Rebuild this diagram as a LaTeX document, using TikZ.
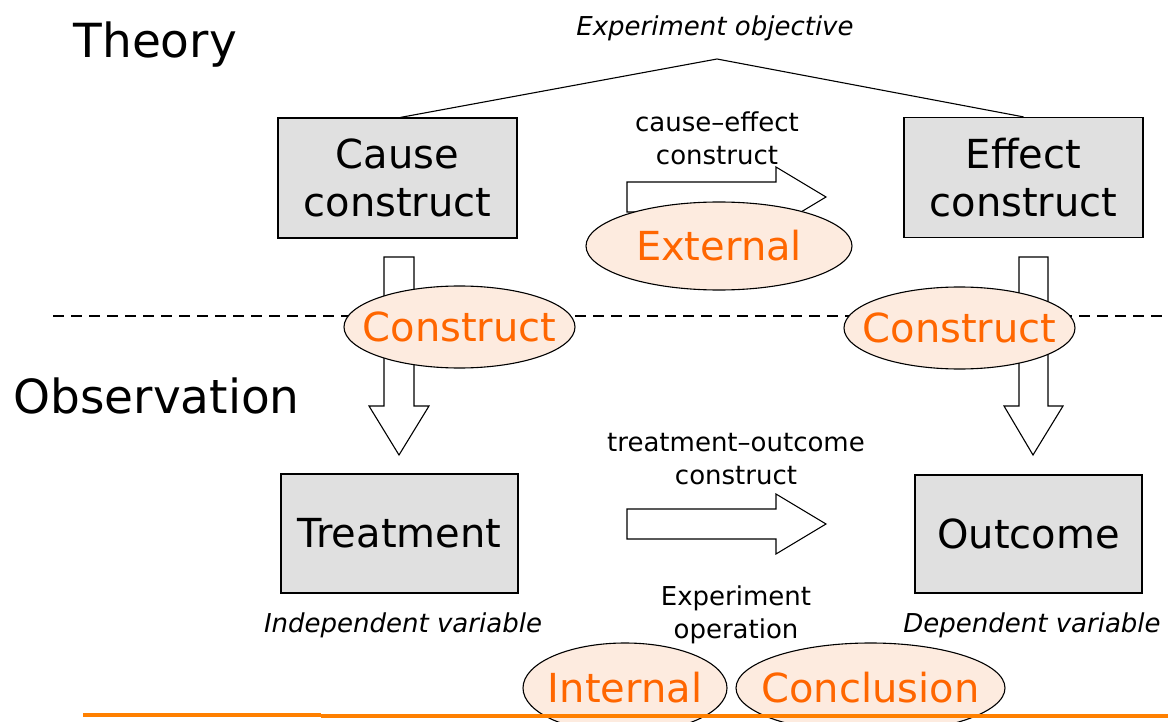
\documentclass[tikz,border=0pt]{standalone}
\usepackage{fontspec}
\setmainfont{DejaVu Sans}
\usetikzlibrary{shapes.geometric}
\definecolor{boxgray}{RGB}{224,224,224}
\definecolor{peach}{RGB}{253,235,223}
\definecolor{validity}{RGB}{255,102,0}
\definecolor{rule}{RGB}{255,128,0}
\tikzset{
  level/.style={anchor=base west,font=\fontsize{47}{52}\selectfont},
  concept/.style={draw,fill=boxgray,line width=1.2pt,inner sep=0pt,align=center,
    minimum width=239pt,minimum height=120pt,font=\fontsize{40}{48}\selectfont},
  % the ellipse is sized by its own minimum size; the word sits in a centred label
  threat/.style={ellipse,draw,fill=peach,line width=1.1pt,inner sep=0pt,
    label={[text=validity,font=\fontsize{40}{44}\selectfont,inner sep=0pt]center:#1}},
  note/.style={align=center,font=\fontsize{26}{33}\selectfont,inner sep=0pt},
  inote/.style={note,font=\fontsize{26}{33}\selectfont\itshape},
  blockarrow/.style={draw,fill=white,line width=1.1pt,line join=miter},
  link/.style={line width=1.1pt}
}
\begin{document}
\begin{tikzpicture}[x=1pt,y=-1pt]
\useasboundingbox (0,0) rectangle (1168,722);

% level headings and the dashed divider
\node[level] (theory) at (70,58) {Theory};
\node[level] (obs) at (10,413) {Observation};
\coordinate (divL) at (53,316);
\coordinate (divR) at (1168,316);
\draw[line width=1.8pt,dash pattern=on 11pt off 7pt] (divL) -- (divR);

% objective and the two links down to the constructs
\node[inote] (objective) at (715,28) {Experiment objective};
\coordinate (apex) at (717,59);
\node[concept] (cause) at (397.5,178) {Cause\\construct};
\node[concept] (effect) at (1023.5,177.5) {Effect\\construct};
\draw[link] ([xshift=3pt]cause.north) -- (apex) -- (effect.north);

% observation boxes and their captions
\node[concept,minimum width=237pt,minimum height=119pt] (treat) at (399.5,533.5) {Treatment};
\node[concept,minimum width=227pt,minimum height=118pt] (outcome) at (1028.5,534) {Outcome};
\node[inote] (indep) at (403,625) {Independent variable};
\node[inote] (dep) at (1032,625) {Dependent variable};

% labels over the horizontal block arrows
\node[note] (celabel) at (717,138) {cause\textendash effect\\construct};
\node[note] (tolabel) at (736,459) {treatment\textendash outcome\\construct};
\node[note] (oplabel) at (736,615) {Experiment\\operation};

% horizontal block arrows
\draw[blockarrow] (627,182) -- (776,182) -- (776,167) -- (826,197) -- (776,227)
  -- (776,212) -- (627,212) -- cycle;
\draw[blockarrow] (627,509) -- (776,509) -- (776,494) -- (826,524) -- (776,554)
  -- (776,539) -- (627,539) -- cycle;

% vertical block arrows from construct to operation
\draw[blockarrow] (384,257) -- (414,257) -- (414,406) -- (429,406) -- (399,455)
  -- (369,406) -- (384,406) -- cycle;
\draw[blockarrow] (1019,257) -- (1048,257) -- (1048,406) -- (1063,406) -- (1033,455)
  -- (1004,406) -- (1019,406) -- cycle;

% validity ellipses
\node[threat=External,minimum width=266pt,minimum height=88pt] (external) at (719,246) {};
\node[threat=Construct,minimum width=231pt,minimum height=82pt] (constrL) at (459.5,327) {};
\node[threat=Construct,minimum width=231pt,minimum height=82pt] (constrR) at (959.5,328) {};
\node[threat=Internal,minimum width=204pt,minimum height=90pt] (internal) at (625,688) {};
\node[threat=Conclusion,minimum width=269pt,minimum height=90pt] (conclusion) at (870.5,688) {};

% orange footer rule
\coordinate (ruleA) at (83,715);
\coordinate (ruleB) at (321,715);
\coordinate (ruleC) at (321,716);
\coordinate (ruleD) at (1168,716);
\draw[rule,line width=4pt] (ruleA) -- (ruleB);
\draw[rule,line width=4pt] (ruleC) -- (ruleD);
\end{tikzpicture}
\end{document}
